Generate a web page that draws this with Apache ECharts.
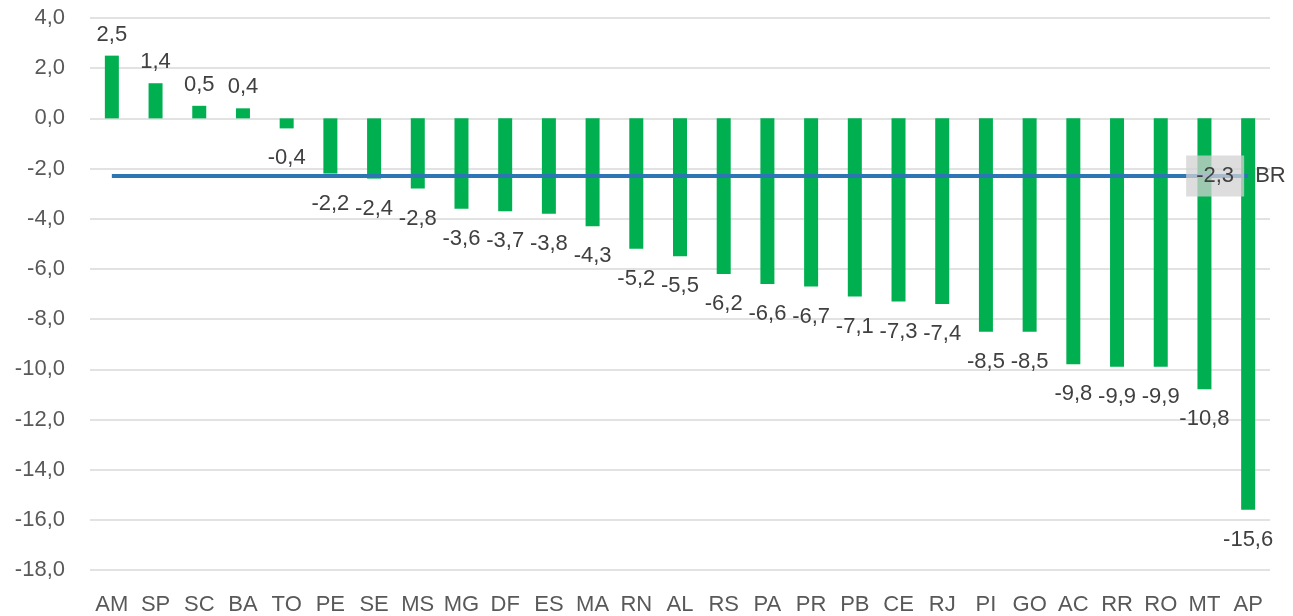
<!DOCTYPE html>
<html>
<head>
<meta charset="utf-8">
<script src="https://cdn.jsdelivr.net/npm/echarts@6/dist/echarts.min.js"></script>
<style>
  html, body { margin: 0; padding: 0; background: #fff; }
  #chart { width: 1293px; height: 616px; }
</style>
</head>
<body>
<div id="chart"></div>
<script>
const states = ['AM', 'SP', 'SC', 'BA', 'TO', 'PE', 'SE', 'MS', 'MG', 'DF', 'ES', 'MA', 'RN', 'AL',
    'RS', 'PA', 'PR', 'PB', 'CE', 'RJ', 'PI', 'GO', 'AC', 'RR', 'RO', 'MT', 'AP'];
const stateValues = [2.5, 1.4, 0.5, 0.4, -0.4, -2.2, -2.4, -2.8, -3.6, -3.7, -3.8, -4.3, -5.2, -5.5,
    -6.2, -6.6, -6.7, -7.1, -7.3, -7.4, -8.5, -8.5, -9.8, -9.9, -9.9, -10.8, -15.6];
const brazilValue = -2.3;
const brazilName = 'BR';

const fmt = v => v.toFixed(1).replace('.', ',');
const font = '"Liberation Sans", "Noto Sans", sans-serif';
const fs = 22;

const chart = echarts.init(document.getElementById('chart'));

chart.setOption({
    animation: false,
    grid: { left: 90, right: 23, top: 18, bottom: 46 },
    xAxis: {
        type: 'category',
        data: states,
        axisLine: { show: false },
        axisTick: { show: false },
        axisLabel: { color: '#595959', fontSize: fs, fontFamily: font, margin: 24, interval: 0 }
    },
    yAxis: {
        type: 'value',
        min: -18,
        max: 4,
        interval: 2,
        axisLabel: { color: '#595959', fontSize: fs, fontFamily: font, margin: 25, formatter: fmt },
        splitLine: { lineStyle: { color: '#d9d9d9', width: 1.5 } }
    },
    series: [
        {
            name: 'UF',
            type: 'bar',
            data: stateValues.map(v => ({
                value: v,
                label: { position: v >= 0 ? 'top' : 'bottom', distance: v >= 0 ? 10 : 19 }
            })),
            barWidth: 14,
            itemStyle: { color: '#00b050' },
            label: {
                show: true,
                color: '#404040',
                fontSize: fs,
                fontFamily: font,
                formatter: p => fmt(p.value)
            }
        },
        {
            name: brazilName,
            type: 'line',
            data: states.map(() => brazilValue),
            symbol: 'none',
            lineStyle: { color: '#2e75b6', width: 4 },
            endLabel: {
                show: true,
                distance: 0,
                offset: [-62, 0],
                formatter: '{box|' + fmt(brazilValue) + '}{n|' + brazilName + '}',
                rich: {
                    box: {
                        width: 58, height: 41, align: 'center',
                        backgroundColor: 'rgba(210,210,210,0.75)',
                        color: '#404040', fontSize: fs, fontFamily: font
                    },
                    n: { color: '#404040', fontSize: fs, fontFamily: font, padding: [0, 0, 0, 11] }
                }
            },
            z: 5
        }
    ]
});
</script>
</body>
</html>
